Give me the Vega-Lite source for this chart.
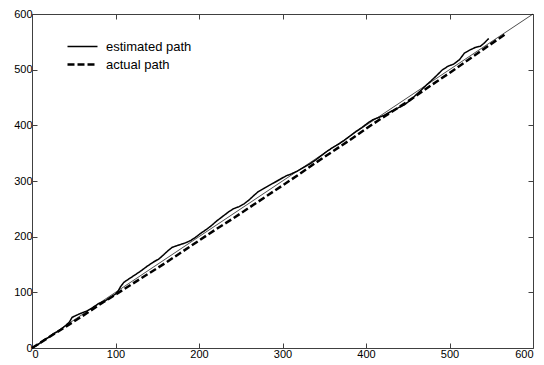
{
  "$schema": "https://vega.github.io/schema/vega-lite/v6.json",
  "width": 501,
  "height": 334,
  "autosize": "none",
  "padding": {"left": 32, "top": 14, "right": 11, "bottom": 17},
  "background": "white",
  "config": {
    "view": {"stroke": null},
    "font": "Liberation Sans",
    "axis": {
      "domainColor": "#404040",
      "tickColor": "#404040",
      "grid": false,
      "title": null,
      "labelColor": "black",
      "labelFont": "Liberation Sans",
      "labelFontSize": 11,
      "tickSize": -5,
      "labelPadding": 5
    }
  },
  "datasets": {
    "diag": [{"x": 0, "y": 0}, {"x": 600, "y": 600}],
    "paths": [
      {"series": "estimated path", "i": 0, "x": 0, "y": 0},
      {"series": "estimated path", "i": 1, "x": 5, "y": 4},
      {"series": "estimated path", "i": 2, "x": 10, "y": 9},
      {"series": "estimated path", "i": 3, "x": 15, "y": 15},
      {"series": "estimated path", "i": 4, "x": 20, "y": 19},
      {"series": "estimated path", "i": 5, "x": 25, "y": 25},
      {"series": "estimated path", "i": 6, "x": 30, "y": 29},
      {"series": "estimated path", "i": 7, "x": 35, "y": 34},
      {"series": "estimated path", "i": 8, "x": 40, "y": 40},
      {"series": "estimated path", "i": 9, "x": 45, "y": 47},
      {"series": "estimated path", "i": 10, "x": 48, "y": 55},
      {"series": "estimated path", "i": 11, "x": 52, "y": 58},
      {"series": "estimated path", "i": 12, "x": 58, "y": 62},
      {"series": "estimated path", "i": 13, "x": 65, "y": 66},
      {"series": "estimated path", "i": 14, "x": 72, "y": 72},
      {"series": "estimated path", "i": 15, "x": 80, "y": 80},
      {"series": "estimated path", "i": 16, "x": 88, "y": 85},
      {"series": "estimated path", "i": 17, "x": 95, "y": 92},
      {"series": "estimated path", "i": 18, "x": 100, "y": 97},
      {"series": "estimated path", "i": 19, "x": 103, "y": 102},
      {"series": "estimated path", "i": 20, "x": 106, "y": 110},
      {"series": "estimated path", "i": 21, "x": 110, "y": 118},
      {"series": "estimated path", "i": 22, "x": 116, "y": 124},
      {"series": "estimated path", "i": 23, "x": 122, "y": 130},
      {"series": "estimated path", "i": 24, "x": 130, "y": 138},
      {"series": "estimated path", "i": 25, "x": 138, "y": 147},
      {"series": "estimated path", "i": 26, "x": 145, "y": 154},
      {"series": "estimated path", "i": 27, "x": 152, "y": 160},
      {"series": "estimated path", "i": 28, "x": 158, "y": 168},
      {"series": "estimated path", "i": 29, "x": 163, "y": 175},
      {"series": "estimated path", "i": 30, "x": 168, "y": 181},
      {"series": "estimated path", "i": 31, "x": 176, "y": 185},
      {"series": "estimated path", "i": 32, "x": 184, "y": 189},
      {"series": "estimated path", "i": 33, "x": 190, "y": 193},
      {"series": "estimated path", "i": 34, "x": 196, "y": 199},
      {"series": "estimated path", "i": 35, "x": 202, "y": 206},
      {"series": "estimated path", "i": 36, "x": 208, "y": 212},
      {"series": "estimated path", "i": 37, "x": 215, "y": 220},
      {"series": "estimated path", "i": 38, "x": 221, "y": 228},
      {"series": "estimated path", "i": 39, "x": 228, "y": 236},
      {"series": "estimated path", "i": 40, "x": 235, "y": 244},
      {"series": "estimated path", "i": 41, "x": 241, "y": 250},
      {"series": "estimated path", "i": 42, "x": 248, "y": 254},
      {"series": "estimated path", "i": 43, "x": 254, "y": 259},
      {"series": "estimated path", "i": 44, "x": 260, "y": 266},
      {"series": "estimated path", "i": 45, "x": 265, "y": 273},
      {"series": "estimated path", "i": 46, "x": 271, "y": 281},
      {"series": "estimated path", "i": 47, "x": 278, "y": 287},
      {"series": "estimated path", "i": 48, "x": 284, "y": 292},
      {"series": "estimated path", "i": 49, "x": 290, "y": 297},
      {"series": "estimated path", "i": 50, "x": 297, "y": 303},
      {"series": "estimated path", "i": 51, "x": 304, "y": 309},
      {"series": "estimated path", "i": 52, "x": 311, "y": 313},
      {"series": "estimated path", "i": 53, "x": 318, "y": 318},
      {"series": "estimated path", "i": 54, "x": 325, "y": 324},
      {"series": "estimated path", "i": 55, "x": 332, "y": 330},
      {"series": "estimated path", "i": 56, "x": 339, "y": 337},
      {"series": "estimated path", "i": 57, "x": 346, "y": 345},
      {"series": "estimated path", "i": 58, "x": 353, "y": 353},
      {"series": "estimated path", "i": 59, "x": 360, "y": 360},
      {"series": "estimated path", "i": 60, "x": 367, "y": 366},
      {"series": "estimated path", "i": 61, "x": 374, "y": 373},
      {"series": "estimated path", "i": 62, "x": 381, "y": 381},
      {"series": "estimated path", "i": 63, "x": 388, "y": 389},
      {"series": "estimated path", "i": 64, "x": 395, "y": 396},
      {"series": "estimated path", "i": 65, "x": 402, "y": 404},
      {"series": "estimated path", "i": 66, "x": 408, "y": 410},
      {"series": "estimated path", "i": 67, "x": 415, "y": 414},
      {"series": "estimated path", "i": 68, "x": 422, "y": 418},
      {"series": "estimated path", "i": 69, "x": 430, "y": 425},
      {"series": "estimated path", "i": 70, "x": 438, "y": 431},
      {"series": "estimated path", "i": 71, "x": 446, "y": 437},
      {"series": "estimated path", "i": 72, "x": 454, "y": 446},
      {"series": "estimated path", "i": 73, "x": 460, "y": 455},
      {"series": "estimated path", "i": 74, "x": 466, "y": 463},
      {"series": "estimated path", "i": 75, "x": 472, "y": 472},
      {"series": "estimated path", "i": 76, "x": 478, "y": 480},
      {"series": "estimated path", "i": 77, "x": 485, "y": 490},
      {"series": "estimated path", "i": 78, "x": 491, "y": 499},
      {"series": "estimated path", "i": 79, "x": 498, "y": 506},
      {"series": "estimated path", "i": 80, "x": 505, "y": 510},
      {"series": "estimated path", "i": 81, "x": 512, "y": 518},
      {"series": "estimated path", "i": 82, "x": 518, "y": 530},
      {"series": "estimated path", "i": 83, "x": 524, "y": 535},
      {"series": "estimated path", "i": 84, "x": 531, "y": 540},
      {"series": "estimated path", "i": 85, "x": 537, "y": 542},
      {"series": "estimated path", "i": 86, "x": 541, "y": 547},
      {"series": "estimated path", "i": 87, "x": 545, "y": 553},
      {"series": "estimated path", "i": 88, "x": 547, "y": 556},
      {"series": "actual path", "i": 0, "x": 0, "y": 0},
      {"series": "actual path", "i": 1, "x": 20, "y": 19},
      {"series": "actual path", "i": 2, "x": 40, "y": 38},
      {"series": "actual path", "i": 3, "x": 60, "y": 57},
      {"series": "actual path", "i": 4, "x": 80, "y": 77},
      {"series": "actual path", "i": 5, "x": 100, "y": 96},
      {"series": "actual path", "i": 6, "x": 120, "y": 115},
      {"series": "actual path", "i": 7, "x": 140, "y": 134},
      {"series": "actual path", "i": 8, "x": 160, "y": 153},
      {"series": "actual path", "i": 9, "x": 180, "y": 173},
      {"series": "actual path", "i": 10, "x": 200, "y": 193},
      {"series": "actual path", "i": 11, "x": 220, "y": 213},
      {"series": "actual path", "i": 12, "x": 240, "y": 232},
      {"series": "actual path", "i": 13, "x": 260, "y": 252},
      {"series": "actual path", "i": 14, "x": 280, "y": 272},
      {"series": "actual path", "i": 15, "x": 300, "y": 292},
      {"series": "actual path", "i": 16, "x": 320, "y": 312},
      {"series": "actual path", "i": 17, "x": 340, "y": 333},
      {"series": "actual path", "i": 18, "x": 360, "y": 353},
      {"series": "actual path", "i": 19, "x": 380, "y": 373},
      {"series": "actual path", "i": 20, "x": 400, "y": 394},
      {"series": "actual path", "i": 21, "x": 420, "y": 414},
      {"series": "actual path", "i": 22, "x": 440, "y": 433},
      {"series": "actual path", "i": 23, "x": 460, "y": 453},
      {"series": "actual path", "i": 24, "x": 480, "y": 474},
      {"series": "actual path", "i": 25, "x": 500, "y": 494},
      {"series": "actual path", "i": 26, "x": 520, "y": 515},
      {"series": "actual path", "i": 27, "x": 540, "y": 536},
      {"series": "actual path", "i": 28, "x": 566, "y": 563}
    ]
  },
  "layer": [
    {
      "data": {"name": "diag"},
      "mark": {"type": "line", "color": "black", "strokeWidth": 0.7},
      "encoding": {
        "x": {"field": "x", "type": "quantitative", "scale": {"domain": [0, 600], "nice": false}, "axis": {"orient": "bottom", "values": [0, 100, 200, 300, 400, 500, 600]}},
        "y": {"field": "y", "type": "quantitative", "scale": {"domain": [0, 600], "nice": false}, "axis": {"orient": "left", "values": [0, 100, 200, 300, 400, 500, 600]}}
      }
    },
    {
      "data": {"name": "paths"},
      "mark": {"type": "line", "color": "black"},
      "encoding": {
        "x": {"field": "x", "type": "quantitative", "scale": {"domain": [0, 600], "nice": false}, "axis": {"orient": "top", "labels": false, "values": [0, 100, 200, 300, 400, 500, 600]}},
        "y": {"field": "y", "type": "quantitative", "scale": {"domain": [0, 600], "nice": false}, "axis": {"orient": "right", "labels": false, "values": [0, 100, 200, 300, 400, 500, 600]}},
        "order": {"field": "i", "type": "quantitative"},
        "strokeDash": {
          "field": "series", "type": "nominal",
          "scale": {"domain": ["estimated path", "actual path"], "range": [[1, 0], [7, 3]]},
          "legend": {
            "orient": "none", "legendX": 34, "legendY": 26, "title": null,
            "symbolType": "stroke", "symbolSize": 900, "symbolStrokeColor": "black", "symbolStrokeWidth": 2,
            "labelFont": "Liberation Sans", "labelFontSize": 13, "labelColor": "black", "labelOffset": 7,
            "clipHeight": 13, "rowPadding": 4, "padding": 0
          }
        },
        "strokeWidth": {
          "field": "series", "type": "nominal",
          "scale": {"domain": ["estimated path", "actual path"], "range": [1.5, 2.5]},
          "legend": null
        }
      }
    }
  ],
  "resolve": {"axis": {"x": "independent", "y": "independent"}}
}
